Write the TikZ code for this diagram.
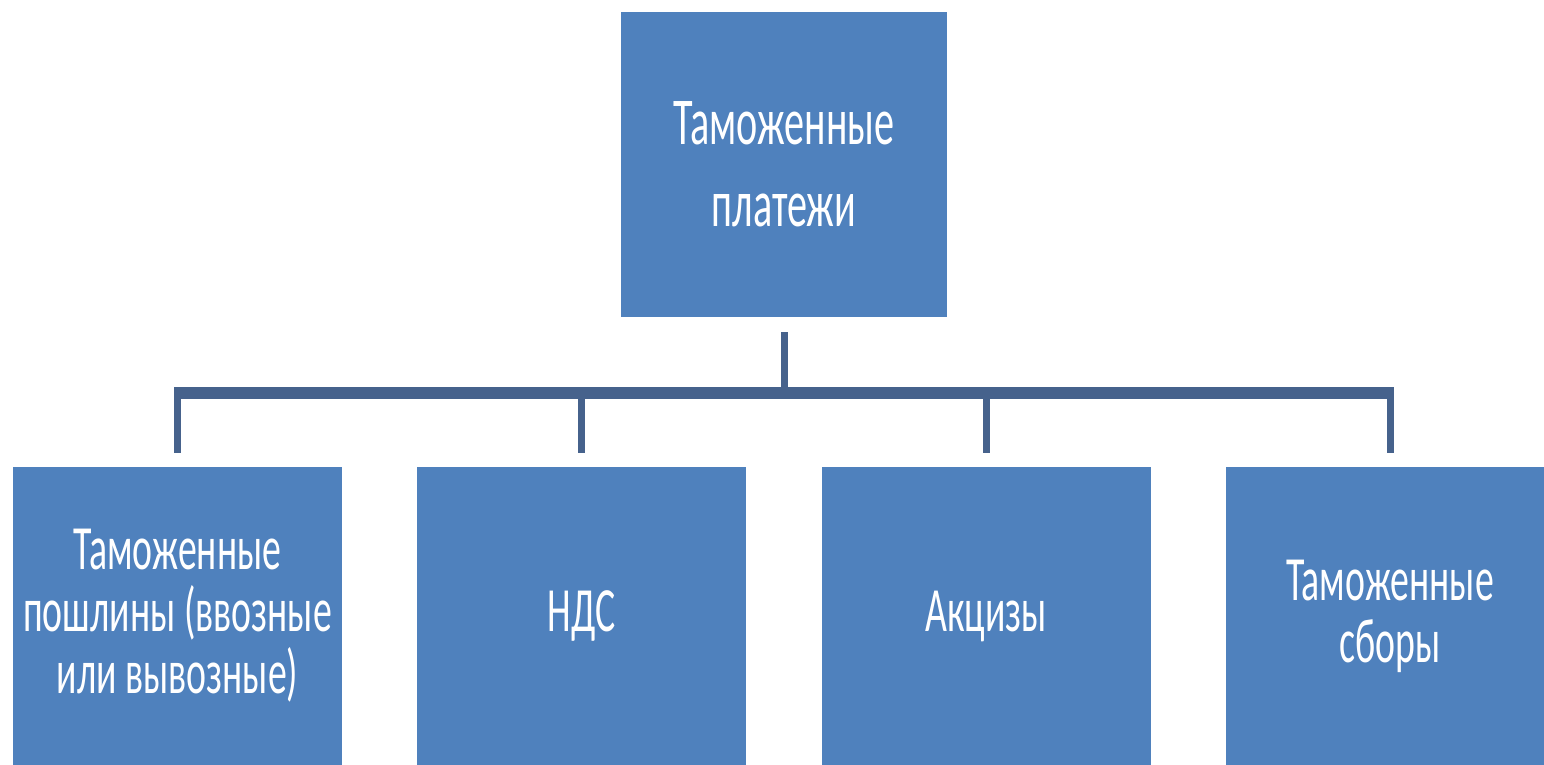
\documentclass[tikz,border=0pt]{standalone}
\usepackage{fontspec}
\setmainfont{Carlito}
\newfontfamily\boxfont[FakeStretch=0.6]{Carlito}
\definecolor{boxblue}{RGB}{79,129,189}
\definecolor{lineblue}{RGB}{70,98,140}
\usetikzlibrary{positioning}

\begin{document}
\begin{tikzpicture}[x=1pt,y=-1pt,
  box/.style={fill=boxblue, text=white, inner sep=0pt, align=center,
    minimum width=329pt, minimum height=298pt,
    font=\boxfont\fontsize{63}{62}\selectfont},
  conn/.style={draw=lineblue, line width=7pt}]
\clip (0,0) rectangle (1544,765);
% top
\node[box, minimum width=326pt, minimum height=305pt,
  font=\boxfont\fontsize{67}{82}\selectfont] (pay) at (784,164.5) {Таможенные\\платежи};
% bottom row
\node[box] (duty) at (177.5,616) {Таможенные\\пошлины (ввозные\\или вывозные)};
\node[box] (vat) at (581.5,616) {НДС};
\node[box] (excise) at (986,616) {Акцизы};
\node[box] (fees) at (1390,616) {Таможенные\\сборы};
% connectors
\coordinate (bus) at (784,393);
\draw[conn, shorten <=15pt] (pay.south) -- (pay.south |- bus);
\draw[conn, line width=12pt, shorten <=-3.5pt, shorten >=-3.5pt] (duty.north |- bus) -- (fees.north |- bus);
\foreach \n in {duty,vat,excise,fees}
  \draw[conn, shorten >=14pt] (\n.north |- bus) -- (\n.north);
\end{tikzpicture}
\end{document}
